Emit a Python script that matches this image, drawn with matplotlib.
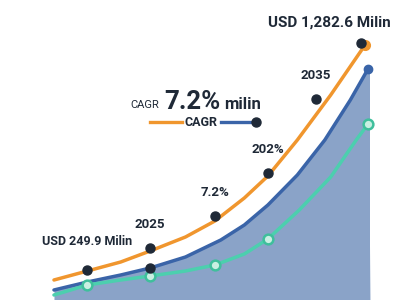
import numpy as np
import matplotlib.pyplot as plt

# values (year, USD million)
orange_years = [2019.0, 2020.7, 2022.4, 2023.9, 2025.7, 2027.2, 2028.7, 2029.9, 2031.4, 2033.1, 2034.85]
orange_vals = [100, 145, 190, 245, 315, 395, 510, 620, 800, 1025, 1275]

blue_years = [2019.0, 2020.7, 2022.4, 2023.9, 2025.7, 2027.5, 2028.7, 2029.9, 2031.4, 2032.8, 2034.1, 2035.0]
blue_vals = [50, 90, 125, 160, 215, 300, 375, 475, 625, 800, 1000, 1155]

teal_years = [2019.0, 2020.7, 2022.4, 2023.9, 2025.7, 2027.2, 2028.7, 2029.9, 2031.5, 2033.1, 2034.4, 2035.0]
teal_vals = [25, 75, 100, 120, 145, 175, 230, 305, 450, 615, 800, 880]
teal_marks = [1, 3, 5, 7, 11]

# labelled dots
dot_years = [2020.7, 2023.9, 2027.2, 2029.9, 2032.35, 2034.65]
dot_vals = [150, 260, 420, 635, 1005, 1285]
dot_labels = ["USD 249.9 Milin", "2025", "7.2%", "202%", "2035", "USD 1,282.6 Milin"]

ORANGE = "#f0962e"
BLUE = "#3a64a8"
TEAL = "#4ccfae"
FILL = "#8aa3c8"
DARK = "#1f2937"

plt.rcParams['font.family'] = ['Roboto', 'DejaVu Sans']

fig = plt.figure(figsize=(4.2, 3.0), dpi=100)
ax = fig.add_axes([0, 0, 1, 1])
ax.set_xlim(2016.25, 2037.65)
ax.set_ylim(0, 1500)
ax.axis('off')

# area under blue line
fx = list(blue_years) + [2035.1]
fy = list(blue_vals) + [0]
ax.fill_between(fx, fy, 0, color=FILL, lw=0, zorder=1)
ax.fill_between([2035.0, 2035.1], [blue_vals[-1], blue_vals[-1]], 0, color=FILL, lw=0, zorder=1)

ax.plot(orange_years, orange_vals, color=ORANGE, lw=2.5, solid_capstyle='round',
        solid_joinstyle='round', zorder=3)
ax.plot(orange_years[-1], orange_vals[-1], 'o', ms=7, color=ORANGE, zorder=3)
ax.plot(blue_years, blue_vals, color=BLUE, lw=2.5, solid_capstyle='round',
        solid_joinstyle='round', zorder=3)
ax.plot(blue_years[-1], blue_vals[-1], 'o', ms=6, color=BLUE, zorder=3)
ax.plot(teal_years, teal_vals, color=TEAL, lw=2.5, solid_capstyle='round',
        solid_joinstyle='round', zorder=3)
ax.plot([teal_years[i] for i in teal_marks], [teal_vals[i] for i in teal_marks], 'o',
        ms=7, mfc="#c9f0e2", mec="#3fbf9c", mew=1.8, zorder=4)

# dark dots
ax.plot(dot_years, dot_vals, 'o', ms=6.5, color=DARK, zorder=5)
ax.plot(blue_years[3], blue_vals[3], 'o', ms=6.5, color=DARK, zorder=5)

offsets = [(0, 16), (0, 12), (0, 12), (0, 12), (0, 12), (-23, 10)]
sizes = [9, 9.5, 9.5, 9.5, 9.5, 11]
for x, y, lab, off, fs in zip(dot_years, dot_vals, dot_labels, offsets, sizes):
    ax.annotate(lab, (x, y), xytext=off, textcoords='offset points', ha='center', va='bottom',
                fontsize=fs, fontweight='bold', color=DARK, zorder=6)

# headline
fig.text(145 / 420, 1 - 108 / 300, "CAGR", fontsize=8, color=DARK, ha='center', va='baseline')
fig.text(192 / 420, 1 - 109 / 300, "7.2%", fontsize=18.5, fontweight='bold', color=DARK, ha='center', va='baseline')
fig.text(243 / 420, 1 - 109 / 300, "milin", fontsize=12, fontweight='bold', color=DARK, ha='center', va='baseline')

# legend row
ly = 1 - 122 / 300
fig.add_artist(plt.Line2D([150 / 420, 182 / 420], [ly, ly], color=ORANGE, lw=2.4))
fig.text(201 / 420, ly, "CAGR", fontsize=9, fontweight='bold', color=DARK, ha='center', va='center')
fig.add_artist(plt.Line2D([221 / 420, 254 / 420], [ly, ly], color=BLUE, lw=2.4))
fig.add_artist(plt.Line2D([256 / 420], [ly], marker='o', ms=6.5, color=DARK))

fig.savefig("out.png", dpi=100)
